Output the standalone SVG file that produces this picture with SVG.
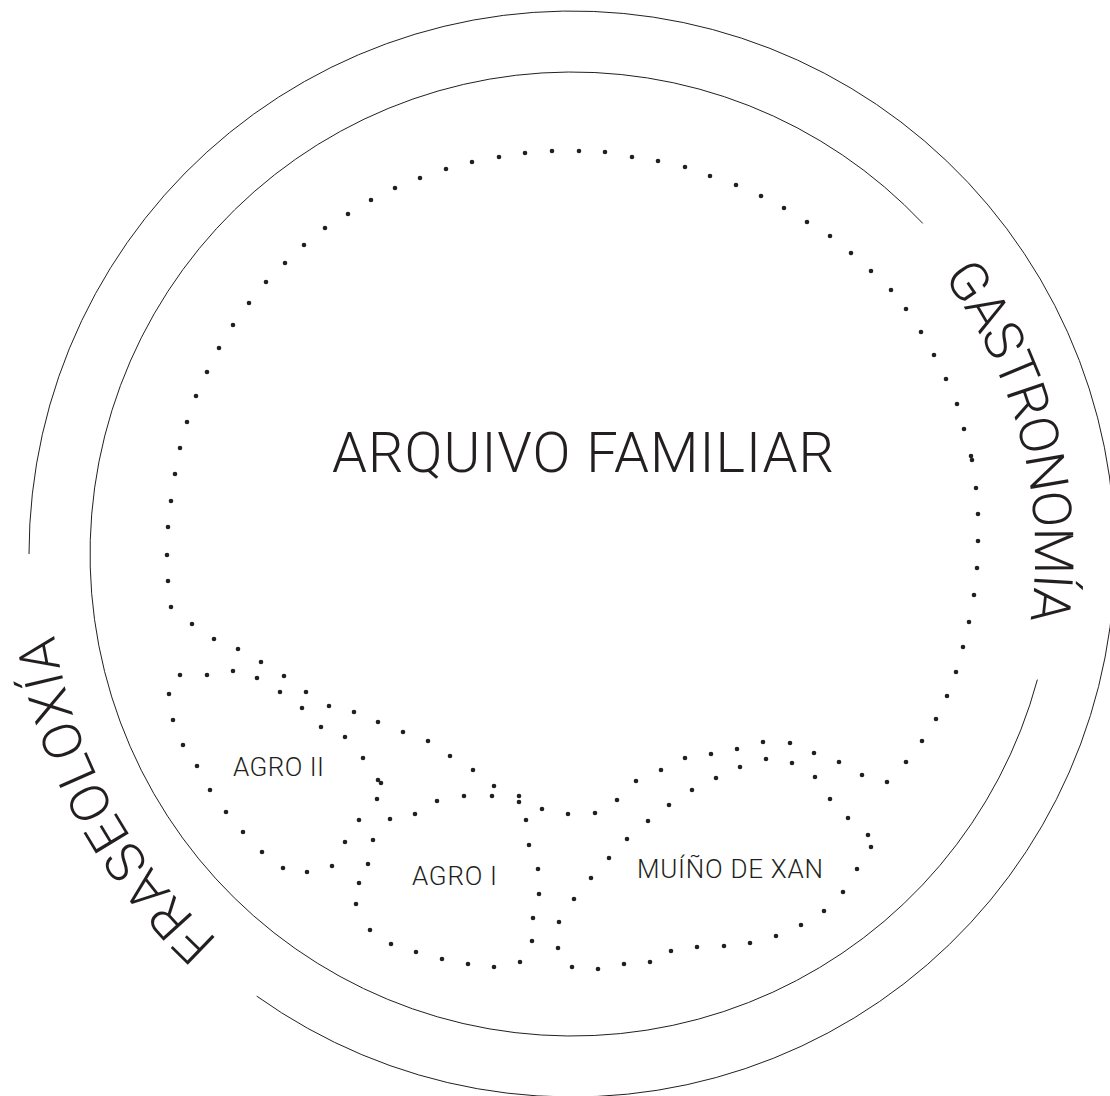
<svg xmlns="http://www.w3.org/2000/svg" width="1110" height="1096" viewBox="0 0 1110 1096">
<style>
.ring{fill:none;stroke:#231f20;stroke-width:1}
.dots{fill:none;stroke:none;marker-start:url(#dot);marker-mid:url(#dot);marker-end:url(#dot)}
text{font-family:Roboto,"Liberation Sans",sans-serif;font-weight:300;fill:#231f20}
.big{font-size:56px}
.small{font-size:26px}
.ringtext{font-size:54px}
</style>
<defs>
<marker id="dot" viewBox="0 0 6 6" refX="3" refY="3" markerWidth="6" markerHeight="6" markerUnits="userSpaceOnUse" orient="0">
<circle cx="3" cy="3" r="2.3" fill="#231f20"/>
</marker>
<path id="gastroPath" d="M 942.7 276.7 A 463 463 0 0 1 1007.1 712.4"/>
<path id="fraseoPath" d="M 218 940.3 A 524 524 0 0 1 56 463"/>
</defs>

<g id="ring-outer">
<path class="ring" d="M 256.7 996.1 A 543 543 0 1 0 29 554"/>
</g>
<g id="ring-inner">
<path class="ring" d="M 922.8 223.4 A 482 482 0 1 0 1037.4 679.6"/>
</g>

<g id="gastronomia">
<text class="ringtext"><textPath href="#gastroPath" textLength="364">GASTRONOMÍA</textPath></text>
</g>
<g id="fraseoloxia">
<text class="ringtext"><textPath href="#fraseoPath" textLength="353">FRASEOLOXÍA</textPath></text>
</g>

<g id="arquivo-familiar">
<path class="dots" d="M 552 151 L 579 151 L 605 152 L 632 157 L 658 161 L 685 167 L 710 176 L 736 185 L 761 196 L 784 208 L 807 222 L 830 236 L 851 253 L 871 271 L 891 290 L 906 309 L 921 332 L 934 355 L 946 379 L 957 404 L 964 429 L 971 456 L 972 460 L 976 488 L 978 514 L 978 541 L 977 568 L 974 595 L 969 622 L 963 647 L 956 672 L 947 696 L 936 719 L 922 741 L 906 762 L 887 782 L 862 775 L 839 762 L 814 753 L 790 743 L 763 742 L 737 749 L 711 754 L 685 758 L 661 770 L 636 781 L 617 800 L 595 813 L 568 814 L 542 809 L 519 796 L 494 786 L 473 770 L 450 756 L 428 741 L 403 732 L 378 722 L 354 712 L 329 706 L 306 692 L 284 676 L 261 662 L 238 649 L 214 639 L 192 624 L 171 607 L 168 581 L 167 555 L 168 527 L 171 501 L 175 474 L 180 448 L 187 422 L 196 396 L 207 372 L 219 348 L 233 325 L 249 303 L 266 282 L 285 263 L 304 245 L 325 228 L 348 214 L 371 200 L 395 188 L 420 178 L 446 169 L 472 162 L 499 157 L 525 153"/>
<text class="big" x="332" y="472" textLength="502">ARQUIVO FAMILIAR</text>
</g>

<g id="agro-ii">
<path class="dots" d="M 207 675 L 233 671 L 257 678 L 280 692 L 302 708 L 321 727 L 345 737 L 363 758 L 378 780 L 381 783 L 377 799 L 359 820 L 345 842 L 332 866 L 307 872 L 283 868 L 262 852 L 243 832 L 226 812 L 210 790 L 197 766 L 183 745 L 173 720 L 169 694 L 180 675"/>
<text class="small" x="233" y="776" textLength="91">AGRO II</text>
</g>

<g id="agro-i">
<path class="dots" d="M 373 840 L 390 819 L 415 814 L 437 801 L 464 796 L 492 796 L 519 802 L 526 820 L 529 845 L 538 869 L 539 894 L 533 918 L 532 941 L 520 962 L 494 967 L 468 964 L 442 959 L 416 952 L 391 944 L 370 930 L 356 904 L 359 883 L 368 864"/>
<text class="small" x="412" y="885" textLength="85">AGRO I</text>
</g>

<g id="muino-de-xan">
<path class="dots" d="M 868 835 L 848 818 L 830 799 L 815 777 L 792 763 L 766 759 L 740 767 L 716 778 L 692 790 L 669 805 L 648 821 L 627 839 L 609 858 L 591 878 L 574 899 L 559 922 L 558 948 L 572 967 L 598 969 L 624 964 L 650 962 L 671 951 L 697 947 L 724 946 L 750 943 L 776 936 L 801 925 L 824 911 L 843 892 L 857 869 L 871 847"/>
<text class="small" x="637" y="878" textLength="186">MUÍÑO DE XAN</text>
</g>
</svg>
